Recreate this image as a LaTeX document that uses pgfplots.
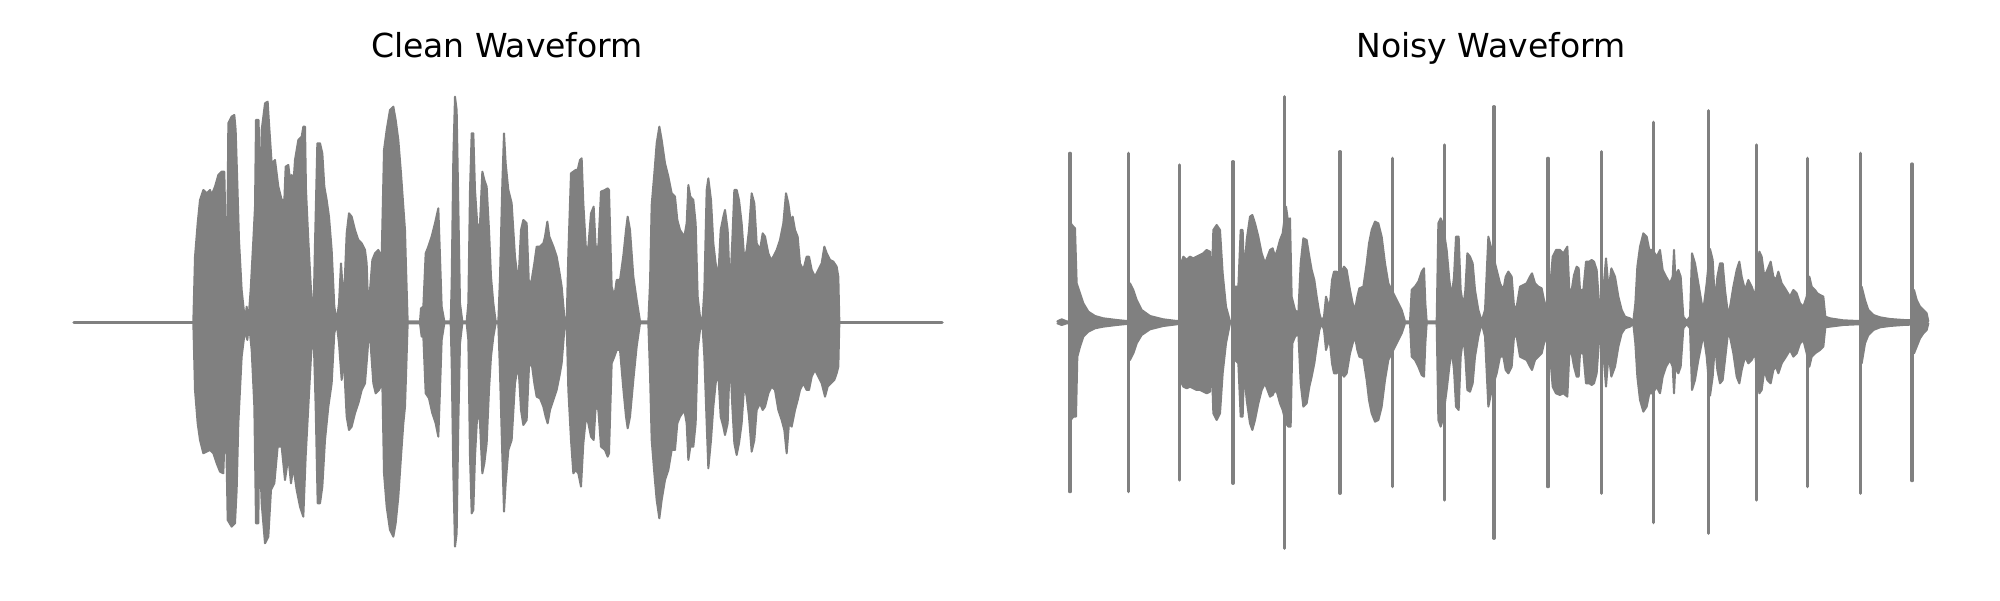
\documentclass[border=0pt]{standalone}
\usepackage{pgfplots}
\pgfplotsset{compat=1.18}
\usepgfplotslibrary{fillbetween}
\usepackage{fontspec}
\setmainfont{DejaVu Sans}
\pgfplotsset{wave/.style={hide axis, scale only axis, width=100mm, height=60mm,
  xmin=0, xmax=3000, ymin=-833, ymax=967, clip=false},
  env/.style={gray, line width=0.2mm, line join=round, line cap=round, mark=none},
  spike/.style={gray, line width=0.32mm, line cap=round, mark=none, ycomb}}
\begin{document}
\begin{tikzpicture}
\path (0,0) rectangle (200mm,60mm);
% ---------------- Clean ----------------
\begin{axis}[wave, at={(0,0)}, anchor=south west]
\addplot[gray, line width=0.35mm, line cap=round, mark=none] coordinates {(222,0)(2826,0)};
\addplot[env, name path=lu] coordinates {
(580,3)(585,197)(593,297)(600,367)(610,397)(620,387)(630,397)(635,382)(645,407)(655,442)(665,452)(673,452)(677,257)(682,257)(685,597)(695,617)(703,622)(707,577)(712,417)(717,247)(725,97)(735,3)(740,47)(745,3)(752,97)(760,247)(765,347)(768,607)(776,607)(779,337)(785,577)(795,657)(803,662)(807,597)(815,477)(825,487)(835,407)(845,367)(853,367)(857,467)(865,472)(870,427)(875,442)(880,412)(885,487)(895,547)(905,557)(910,587)(915,587)(918,397)(925,247)(933,97)(940,3)(945,237)(952,537)(960,537)(967,507)(973,407)(980,367)(987,317)(995,217)(1003,47)(1010,3)(1017,57)(1023,177)(1027,117)(1033,97)(1040,267)(1047,327)(1055,317)(1065,277)(1075,247)(1085,237)(1095,217)(1100,177)(1105,37)(1110,97)(1117,187)(1125,207)(1135,217)(1145,197)(1152,517)(1160,577)(1170,637)(1180,647)(1187,607)(1195,547)(1203,447)(1210,347)(1215,277)(1218,167)(1223,3)(1260,3)(1263,42)(1270,47)(1277,207)(1285,227)(1295,257)(1305,297)(1315,342)(1320,197)(1325,47)(1333,3)(1352,3)(1355,117)(1360,497)(1365,677)(1370,637)(1375,347)(1380,57)(1387,3)(1400,3)(1405,57)(1410,397)(1415,567)(1420,567)(1425,397)(1433,277)(1440,297)(1447,452)(1453,427)(1460,407)(1467,277)(1473,137)(1480,57)(1487,3)(1495,3)(1500,137)(1507,417)(1512,567)(1517,477)(1525,397)(1535,357)(1545,197)(1555,117)(1563,277)(1570,307)(1580,297)(1587,107)(1595,127)(1603,177)(1610,227)(1620,227)(1630,237)(1635,257)(1642,302)(1648,257)(1660,227)(1670,197)(1678,152)(1685,107)(1693,17)(1700,3)(1705,207)(1713,447)(1720,452)(1727,457)(1733,457)(1740,487)(1745,492)(1750,357)(1758,217)(1765,227)(1773,327)(1781,347)(1787,227)(1795,227)(1803,392)(1815,397)(1823,402)(1827,397)(1835,107)(1843,77)(1850,127)(1860,127)(1870,200)(1878,277)(1883,317)(1890,277)(1900,137)(1910,67)(1920,3)(1945,3)(1950,117)(1955,352)(1963,447)(1970,537)(1978,587)(1985,547)(1995,477)(2005,437)(2015,387)(2025,377)(2032,307)(2040,277)(2053,257)(2060,297)(2065,412)(2071,377)(2080,367)(2087,297)(2093,77)(2100,17)(2107,3)(2113,97)(2120,397)(2125,432)(2133,367)(2140,237)(2147,177)(2155,137)(2162,277)(2170,317)(2175,337)(2183,277)(2190,97)(2197,247)(2203,397)(2210,397)(2217,367)(2225,297)(2233,187)(2240,217)(2247,277)(2255,387)(2263,357)(2270,237)(2280,217)(2288,267)(2295,257)(2305,207)(2313,187)(2320,197)(2330,217)(2340,247)(2350,297)(2358,387)(2365,357)(2373,297)(2378,317)(2385,277)(2393,257)(2400,177)(2410,157)(2420,197)(2427,197)(2435,157)(2445,137)(2455,157)(2465,177)(2473,227)(2480,207)(2490,187)(2500,182)(2510,167)(2515,137)(2518,3)};
\addplot[env, name path=ll] coordinates {
(580,-3)(585,-203)(593,-303)(600,-353)(610,-393)(620,-388)(630,-383)(640,-393)(650,-423)(660,-448)(670,-453)(677,-253)(683,-593)(695,-613)(705,-603)(710,-503)(715,-303)(725,-103)(735,-23)(742,-53)(747,-3)(755,-83)(763,-253)(768,-603)(775,-603)(778,-353)(785,-543)(795,-663)(805,-643)(813,-503)(823,-483)(833,-373)(845,-373)(855,-473)(865,-403)(873,-483)(880,-433)(890,-503)(900,-553)(910,-583)(917,-403)(925,-253)(933,-103)(940,-13)(947,-253)(953,-543)(960,-543)(967,-493)(975,-353)(985,-253)(995,-183)(1003,-33)(1010,-3)(1017,-63)(1025,-173)(1031,-103)(1040,-283)(1047,-323)(1055,-313)(1065,-273)(1075,-243)(1085,-203)(1095,-183)(1103,-83)(1107,-3)(1113,-83)(1120,-183)(1127,-213)(1137,-203)(1147,-183)(1152,-453)(1160,-553)(1170,-623)(1180,-643)(1187,-603)(1195,-523)(1203,-403)(1210,-303)(1215,-253)(1218,-163)(1223,-3)(1260,-3)(1265,-43)(1270,-43)(1277,-213)(1287,-228)(1297,-273)(1307,-303)(1315,-343)(1320,-203)(1325,-53)(1333,-3)(1352,-3)(1355,-123)(1360,-453)(1365,-673)(1370,-633)(1375,-303)(1380,-63)(1387,-3)(1400,-3)(1405,-53)(1410,-403)(1415,-573)(1420,-563)(1425,-403)(1433,-253)(1440,-303)(1447,-453)(1453,-423)(1460,-363)(1467,-203)(1473,-103)(1480,-43)(1487,-3)(1495,-3)(1500,-153)(1507,-403)(1512,-568)(1517,-483)(1525,-383)(1535,-353)(1545,-183)(1555,-123)(1563,-263)(1570,-308)(1580,-293)(1587,-133)(1595,-123)(1603,-183)(1610,-223)(1620,-228)(1630,-253)(1637,-283)(1643,-303)(1650,-263)(1660,-233)(1670,-203)(1678,-163)(1685,-123)(1693,-23)(1700,-3)(1705,-203)(1713,-353)(1720,-453)(1727,-443)(1735,-453)(1743,-493)(1750,-363)(1758,-283)(1765,-303)(1773,-343)(1781,-353)(1787,-253)(1795,-263)(1803,-373)(1815,-383)(1823,-403)(1827,-393)(1835,-123)(1843,-103)(1850,-83)(1860,-83)(1870,-200)(1878,-283)(1883,-318)(1890,-283)(1900,-173)(1910,-73)(1920,-3)(1945,-3)(1950,-153)(1955,-353)(1963,-453)(1970,-533)(1978,-588)(1985,-533)(1995,-473)(2005,-443)(2015,-383)(2025,-383)(2032,-303)(2040,-283)(2053,-263)(2060,-303)(2065,-413)(2071,-373)(2080,-373)(2087,-303)(2093,-83)(2100,-23)(2107,-3)(2113,-103)(2120,-303)(2125,-438)(2133,-353)(2140,-253)(2147,-183)(2155,-153)(2162,-283)(2170,-313)(2175,-338)(2183,-303)(2190,-93)(2197,-253)(2203,-363)(2210,-398)(2217,-363)(2225,-303)(2233,-183)(2240,-223)(2247,-283)(2255,-388)(2263,-353)(2270,-263)(2280,-243)(2288,-263)(2295,-253)(2305,-213)(2315,-193)(2325,-203)(2335,-263)(2345,-293)(2353,-323)(2360,-393)(2367,-303)(2375,-313)(2385,-263)(2393,-233)(2400,-203)(2410,-183)(2420,-203)(2427,-203)(2435,-163)(2445,-143)(2455,-163)(2465,-183)(2475,-223)(2483,-193)(2493,-183)(2503,-173)(2510,-153)(2515,-133)(2518,-3)};
\addplot[gray] fill between[of=lu and ll];
\node[font=\fontsize{9.4}{11}\selectfont, anchor=base] at (axis cs:1521,793) {Clean Waveform};
\end{axis}
% ---------------- Noisy ----------------
\begin{axis}[wave, at={(100mm,0)}, anchor=south west]
\addplot[env, name path=ru] coordinates {
(172,3)(185,9)(200,3)(208,3)(212,297)(220,287)(225,282)(230,117)(240,87)(250,57)(265,32)(285,19)(310,12)(350,7)(380,4)(388,4)(390,117)(400,97)(410,67)(425,37)(450,19)(490,9)(530,4)(537,4)(540,167)(550,197)(560,187)(570,197)(580,192)(590,197)(600,202)(610,207)(620,217)(630,212)(635,117)(640,277)(650,292)(660,277)(668,147)(678,47)(690,3)(700,3)(705,107)(715,107)(722,277)(728,277)(732,137)(740,247)(750,317)(757,322)(765,297)(775,257)(785,207)(795,177)(810,217)(818,222)(825,197)(832,217)(840,247)(848,267)(858,347)(865,297)(870,312)(875,77)(885,37)(895,27)(902,177)(910,252)(920,247)(928,197)(935,157)(943,127)(950,77)(958,27)(965,3)(972,17)(978,77)(984,57)(990,57)(996,127)(1002,152)(1010,152)(1016,147)(1025,152)(1032,167)(1040,157)(1050,97)(1058,57)(1065,37)(1072,77)(1078,102)(1090,107)(1100,177)(1107,237)(1115,277)(1125,302)(1135,297)(1145,257)(1155,177)(1165,117)(1175,97)(1185,77)(1195,57)(1205,37)(1215,3)(1230,3)(1235,97)(1245,107)(1255,122)(1265,152)(1272,162)(1276,57)(1280,3)(1310,3)(1315,297)(1322,312)(1328,297)(1340,217)(1348,127)(1355,77)(1362,137)(1368,257)(1376,257)(1382,97)(1390,47)(1396,97)(1402,207)(1410,197)(1418,177)(1425,97)(1435,37)(1445,3)(1455,37)(1465,257)(1475,217)(1490,157)(1500,117)(1510,97)(1517,137)(1525,152)(1535,137)(1542,47)(1550,47)(1560,107)(1570,112)(1580,117)(1590,137)(1596,147)(1605,117)(1615,107)(1625,102)(1632,67)(1638,47)(1648,77)(1658,197)(1668,217)(1680,217)(1690,207)(1702,227)(1708,97)(1715,97)(1722,142)(1730,167)(1736,162)(1740,97)(1750,97)(1758,182)(1768,182)(1775,187)(1782,182)(1790,157)(1798,47)(1810,97)(1818,192)(1826,97)(1834,162)(1845,137)(1855,77)(1865,37)(1875,17)(1890,12)(1900,4)(1906,57)(1912,167)(1920,227)(1930,267)(1940,257)(1948,217)(1958,217)(1970,197)(1980,217)(1988,157)(1998,137)(2010,117)(2018,137)(2022,217)(2026,137)(2035,157)(2042,137)(2050,17)(2060,4)(2070,17)(2076,207)(2085,177)(2095,117)(2105,57)(2110,37)(2120,117)(2130,220)(2138,187)(2145,57)(2152,137)(2160,177)(2168,177)(2175,97)(2185,17)(2192,57)(2200,107)(2210,157)(2218,182)(2225,137)(2235,97)(2245,127)(2255,107)(2265,77)(2278,212)(2285,197)(2293,137)(2302,157)(2312,182)(2320,137)(2328,127)(2335,152)(2345,117)(2358,97)(2370,77)(2380,97)(2390,87)(2400,57)(2410,47)(2420,77)(2428,137)(2435,107)(2445,97)(2452,87)(2460,82)(2470,77)(2476,17)(2490,12)(2530,6)(2575,4)(2583,4)(2585,107)(2595,67)(2605,37)(2620,22)(2640,15)(2670,10)(2710,7)(2734,6)(2742,97)(2750,67)(2760,47)(2770,37)(2780,27)(2785,3)};
\addplot[env, name path=rl] coordinates {
(172,-3)(185,-8)(200,-3)(208,-3)(212,-293)(220,-283)(228,-283)(232,-103)(240,-73)(250,-43)(265,-28)(285,-18)(310,-13)(350,-8)(380,-5)(388,-5)(390,-113)(400,-93)(410,-63)(425,-38)(450,-21)(490,-11)(530,-6)(537,-5)(540,-173)(550,-193)(560,-198)(570,-193)(580,-198)(590,-203)(600,-203)(610,-208)(620,-213)(630,-208)(635,-123)(640,-273)(650,-293)(660,-273)(668,-153)(678,-63)(690,-3)(700,-3)(705,-113)(715,-123)(722,-283)(728,-283)(732,-143)(740,-233)(750,-303)(757,-323)(765,-293)(775,-243)(785,-203)(795,-183)(810,-223)(818,-218)(825,-203)(832,-213)(840,-243)(848,-263)(858,-303)(865,-313)(872,-313)(877,-63)(885,-43)(895,-33)(902,-183)(910,-253)(920,-243)(928,-193)(935,-163)(943,-123)(950,-73)(958,-23)(965,-3)(972,-23)(978,-83)(984,-63)(990,-63)(996,-123)(1002,-153)(1010,-153)(1016,-143)(1025,-153)(1032,-163)(1040,-153)(1050,-93)(1058,-63)(1065,-43)(1072,-83)(1078,-103)(1090,-108)(1100,-173)(1107,-233)(1115,-273)(1125,-298)(1135,-293)(1145,-253)(1155,-173)(1165,-113)(1175,-93)(1185,-73)(1195,-53)(1205,-33)(1215,-3)(1230,-3)(1235,-103)(1245,-113)(1255,-133)(1265,-158)(1272,-163)(1276,-63)(1280,-3)(1310,-3)(1315,-293)(1322,-313)(1328,-293)(1340,-203)(1348,-133)(1355,-83)(1362,-143)(1368,-253)(1376,-263)(1382,-103)(1390,-43)(1396,-103)(1402,-203)(1410,-208)(1418,-183)(1425,-103)(1435,-43)(1445,-3)(1455,-43)(1465,-253)(1475,-203)(1490,-153)(1500,-103)(1510,-103)(1517,-143)(1525,-153)(1535,-133)(1542,-43)(1550,-43)(1560,-103)(1570,-108)(1580,-113)(1590,-133)(1596,-143)(1605,-113)(1615,-103)(1625,-93)(1632,-63)(1638,-48)(1648,-73)(1658,-193)(1668,-213)(1680,-218)(1690,-213)(1702,-223)(1708,-93)(1715,-93)(1722,-133)(1730,-163)(1736,-163)(1740,-93)(1750,-93)(1758,-183)(1768,-183)(1775,-188)(1782,-183)(1790,-153)(1798,-43)(1810,-93)(1818,-193)(1826,-93)(1834,-163)(1845,-133)(1855,-73)(1865,-33)(1875,-18)(1890,-13)(1900,-5)(1906,-63)(1912,-163)(1920,-233)(1930,-268)(1940,-253)(1948,-213)(1958,-213)(1970,-193)(1980,-213)(1988,-163)(1998,-133)(2010,-113)(2018,-133)(2022,-213)(2026,-133)(2035,-153)(2042,-133)(2050,-18)(2060,-5)(2070,-18)(2076,-203)(2085,-173)(2095,-113)(2105,-63)(2110,-33)(2120,-103)(2130,-220)(2138,-163)(2145,-63)(2152,-143)(2160,-183)(2168,-173)(2175,-113)(2185,-23)(2192,-53)(2200,-93)(2210,-163)(2218,-183)(2225,-143)(2235,-103)(2245,-123)(2255,-113)(2265,-93)(2278,-213)(2285,-203)(2293,-143)(2302,-173)(2312,-183)(2320,-143)(2328,-133)(2335,-153)(2345,-123)(2358,-103)(2370,-83)(2380,-103)(2390,-93)(2400,-63)(2410,-53)(2420,-93)(2428,-133)(2435,-103)(2445,-93)(2460,-83)(2470,-73)(2476,-15)(2490,-13)(2530,-8)(2575,-6)(2583,-5)(2585,-123)(2595,-63)(2605,-38)(2620,-23)(2640,-15)(2670,-11)(2710,-8)(2734,-7)(2742,-93)(2750,-73)(2760,-48)(2770,-33)(2780,-23)(2785,-3)};
\addplot[gray] fill between[of=ru and rl];
\addplot[spike] coordinates {(210,507)(386,507)(538,472)(699,482)(853,677)(1020,512)(1178,492)(1334,532)(1482,647)(1644,492)(1805,512)(1961,600)(2125,635)(2270,532)(2423,492)(2581,507)(2736,475)};
\addplot[spike] coordinates {(210,-508)(386,-508)(538,-473)(699,-483)(853,-678)(1020,-513)(1178,-493)(1334,-533)(1482,-648)(1644,-493)(1805,-513)(1961,-601)(2125,-633)(2270,-533)(2423,-493)(2581,-513)(2736,-475)};
\node[font=\fontsize{9.4}{11}\selectfont, anchor=base] at (axis cs:1473,793) {Noisy Waveform};
\end{axis}
\end{tikzpicture}
\end{document}
